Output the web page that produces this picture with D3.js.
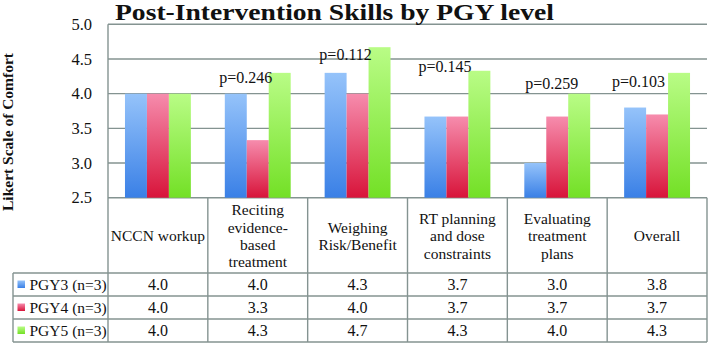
<!DOCTYPE html>
<html>
<head>
<meta charset="utf-8">
<script src="https://cdn.jsdelivr.net/npm/d3@7"></script>
<style>
  html, body { margin: 0; padding: 0; background: #ffffff; }
  svg { display: block; }
  text { font-family: "Liberation Serif", "DejaVu Serif", serif; fill: #111; }
</style>
</head>
<body>
<svg id="chart" width="708" height="343"></svg>
<script>
// ---------- data ----------
const categories = ["NCCN workup", "Reciting evidence-based treatment", "Weighing Risk/Benefit",
                    "RT planning and dose constraints", "Evaluating treatment plans", "Overall"];
const categoryLines = [
  ["NCCN workup"],
  ["Reciting", "evidence-", "based", "treatment"],
  ["Weighing", "Risk/Benefit"],
  ["RT planning", "and dose", "constraints"],
  ["Evaluating", "treatment", "plans"],
  ["Overall"]
];
const seriesNames = ["PGY3 (n=3)", "PGY4 (n=3)", "PGY5 (n=3)"];
const pgy3 = [4.0, 4.0, 4.3, 3.67, 3.0, 3.8];
const pgy4 = [4.0, 3.33, 4.0, 3.67, 3.67, 3.7];
const pgy5 = [4.0, 4.3, 4.67, 4.33, 4.0, 4.3];
const pValues = [null, "p=0.246", "p=0.112", "p=0.145", "p=0.259", "p=0.103"];
const yTicks = [2.5, 3.0, 3.5, 4.0, 4.5, 5.0];
const chartTitle = "Post-Intervention Skills by PGY level";
const yTitle = "Likert Scale of Comfort";

const series = [pgy3, pgy4, pgy5];

// annotation placement (axis units / pixel nudges)
const pLevel = [null, 4.24, 4.56, 4.39, 4.15, 4.17];
const pDx = [0, -12, -12, -12.5, -5.5, -18.5];

(function () {
// ---------- layout ----------
const svg = d3.select("#chart");
const pLeft = 108, pRight = 707, pTop = 24.3, plotBottom = 197.7;
const headerBottom = 273, rowH = 23, tableLeft = 13;
const gridColor = "#849391";

const x = d3.scaleBand().domain(categories).range([pLeft, pRight]).padding(0);
const xs = d3.scaleBand().domain(seriesNames)
  .range([x.bandwidth() * 0.17, x.bandwidth() * 0.83]).padding(0);
const y = d3.scaleLinear().domain([2.5, 5]).range([plotBottom, pTop]);

// gradients
const gradColors = [["#95c3fa", "#3a80e6"], ["#f68cad", "#d8143a"], ["#b9fc86", "#73e026"]];
const defs = svg.append("defs");
gradColors.forEach((c, i) => {
  const g = defs.append("linearGradient").attr("id", "g" + i)
    .attr("x1", 0).attr("y1", 0).attr("x2", 0).attr("y2", 1);
  g.append("stop").attr("offset", "0%").attr("stop-color", c[0]);
  g.append("stop").attr("offset", "100%").attr("stop-color", c[1]);
});

// gridlines
svg.append("g").selectAll("line").data(yTicks).join("line")
  .attr("x1", pLeft).attr("x2", pRight)
  .attr("y1", d => y(d)).attr("y2", d => y(d))
  .attr("stroke", gridColor).attr("stroke-width", 1.4);

// y tick labels
svg.append("g").selectAll("text").data(yTicks).join("text")
  .attr("x", 92).attr("y", d => y(d))
  .attr("dy", "0.35em")
  .attr("text-anchor", "end")
  .attr("font-size", 16.5)
  .text(d => d.toFixed(1));

// bars
const groups = svg.append("g").selectAll("g").data(categories).join("g")
  .attr("transform", d => `translate(${x(d)},0)`);
groups.selectAll("rect")
  .data((d, ci) => series.map((s, si) => ({ si, v: s[ci] })))
  .join("rect")
  .attr("x", d => xs(seriesNames[d.si]))
  .attr("width", xs.bandwidth())
  .attr("y", d => y(d.v))
  .attr("height", d => y(2.5) - y(d.v))
  .attr("fill", d => `url(#g${d.si})`);

// p-value labels
svg.append("g").selectAll("text").data(categories.map((c, i) => ({ c, i })).filter(d => pValues[d.i]))
  .join("text")
  .attr("x", d => x(d.c) + x.bandwidth() / 2 + pDx[d.i])
  .attr("y", d => y(pLevel[d.i]))
  .attr("dy", "0.35em")
  .attr("text-anchor", "middle")
  .attr("font-size", 16)
  .text(d => pValues[d.i]);

// table lines
const tableBottom = headerBottom + rowH * series.length;
const tl = svg.append("g").attr("stroke", gridColor).attr("stroke-width", 1.4);
const colEdges = categories.map(c => x(c)).concat([pRight]);
tl.selectAll("line.v").data(colEdges).join("line").attr("class", "v")
  .attr("x1", d => d).attr("x2", d => d)
  .attr("y1", (d, i) => i === 0 ? pTop : plotBottom).attr("y2", tableBottom);
const rowEdges = d3.range(series.length + 1).map(i => headerBottom + i * rowH);
tl.selectAll("line.h").data(rowEdges).join("line").attr("class", "h")
  .attr("x1", tableLeft).attr("x2", pRight)
  .attr("y1", d => d).attr("y2", d => d);
tl.append("line").attr("x1", tableLeft).attr("x2", tableLeft)
  .attr("y1", headerBottom).attr("y2", tableBottom);

// header category labels
const headerMid = (plotBottom + headerBottom) / 2 + 0.5;
const lineH = 17.3;
svg.append("g").selectAll("text").data(categories).join("text")
  .attr("text-anchor", "middle")
  .attr("font-size", 15.5)
  .each(function (c, i) {
    const lines = categoryLines[i];
    const t = d3.select(this);
    lines.forEach((ln, k) => {
      t.append("tspan")
        .attr("x", x(c) + x.bandwidth() / 2)
        .attr("y", headerMid + (k - (lines.length - 1) / 2) * lineH)
        .attr("dy", "0.35em")
        .text(ln);
    });
  });

// table rows
series.forEach((s, si) => {
  const cy = headerBottom + si * rowH + rowH / 2;
  svg.append("rect").attr("x", 17.5).attr("y", cy - 4).attr("width", 7.5).attr("height", 7.5)
    .attr("fill", `url(#g${si})`);
  svg.append("text").attr("x", 29.5).attr("y", cy).attr("dy", "0.35em")
    .attr("font-size", 15.5).text(seriesNames[si]);
  svg.append("g").selectAll("text").data(categories).join("text")
    .attr("x", c => x(c) + x.bandwidth() / 2)
    .attr("y", cy).attr("dy", "0.35em")
    .attr("text-anchor", "middle")
    .attr("font-size", 16)
    .text((c, ci) => s[ci].toFixed(1));
});

// title
svg.append("text").attr("x", 115).attr("y", 19.5)
  .attr("font-size", 22.5).attr("font-weight", "bold")
  .attr("textLength", 439).attr("lengthAdjust", "spacingAndGlyphs")
  .text(chartTitle);

// y axis title
svg.append("text")
  .attr("transform", `translate(13,132) rotate(-90)`)
  .attr("text-anchor", "middle")
  .attr("font-size", 15.5).attr("font-weight", "bold")
  .text(yTitle);
})();
</script>
</body>
</html>
